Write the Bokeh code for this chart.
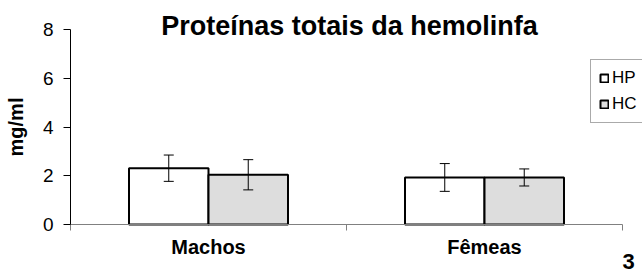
from bokeh.plotting import figure
from bokeh.models import ColumnDataSource, Range1d, FixedTicker, Whisker, Legend, LegendItem, Label
from bokeh.embed import file_html
from bokeh.resources import INLINE

categories = ["Machos", "Fêmeas"]
series = ["HP", "HC"]
hp_mean = [2.31, 1.93]
hp_err = [0.54, 0.57]
hc_mean = [2.04, 1.93]
hc_err = [0.62, 0.35]
y_ticks = [0, 2, 4, 6, 8]
y_max = 8
title_text = "Proteínas totais da hemolinfa"
y_label = "mg/ml"
page_number = "3"

FONT = "Liberation Sans"
W, H = 642, 273
# pixel layout of the plotting area inside the canvas
LEFT, RIGHT, TOP, BOTTOM = 70, 622, 29, 224
BAR_W = 0.288
OFF = 0.144

n = len(categories)
cat_x = [i + 0.5 for i in range(n)]
boundaries = [float(i) for i in range(n + 1)]

px_x = (RIGHT - LEFT) / n
px_y = (BOTTOM - TOP) / y_max
x_range = Range1d(-LEFT / px_x, n + (W - RIGHT) / px_x)
y_range = Range1d(-(H - BOTTOM) / px_y, y_max + TOP / px_y)

src = ColumnDataSource(dict(
    x_hp=[c - OFF for c in cat_x],
    x_hc=[c + OFF for c in cat_x],
    hp=hp_mean, hc=hc_mean,
    hp_up=[m + e for m, e in zip(hp_mean, hp_err)],
    hp_lo=[m - e for m, e in zip(hp_mean, hp_err)],
    hc_up=[m + e for m, e in zip(hc_mean, hc_err)],
    hc_lo=[m - e for m, e in zip(hc_mean, hc_err)],
))

p = figure(width=W, height=H, output_backend="svg", toolbar_location=None,
           x_range=x_range, y_range=y_range, min_border=0)
p.outline_line_color = None
p.grid.visible = False
p.background_fill_color = "white"
p.border_fill_color = "white"

r_hp = p.vbar(x="x_hp", top="hp", width=BAR_W, source=src, fill_color="white",
              line_color="black", line_width=2)
r_hc = p.vbar(x="x_hc", top="hc", width=BAR_W, source=src, fill_color="#dddddd",
              line_color="black", line_width=2)

for base, up, lo in [("x_hp", "hp_up", "hp_lo"), ("x_hc", "hc_up", "hc_lo")]:
    w = Whisker(base=base, upper=up, lower=lo, source=src, line_color="black",
                line_width=1, level="overlay")
    w.upper_head.size = 10
    w.lower_head.size = 10
    w.upper_head.line_width = 1
    w.lower_head.line_width = 1
    p.add_layout(w)

# y axis
ya = p.yaxis[0]
ya.fixed_location = 0
ya.bounds = (0, y_max)
ya.ticker = FixedTicker(ticks=y_ticks, minor_ticks=[])
ya.axis_line_color = "black"
ya.major_tick_out = 7
ya.major_tick_in = 0
ya.minor_tick_out = 0
ya.major_label_standoff = 10
ya.major_label_text_font = FONT
ya.major_label_text_font_size = "19px"
ya.major_label_text_color = "black"
ya.axis_label = y_label
ya.axis_label_text_font = FONT
ya.axis_label_text_font_style = "bold"
ya.axis_label_text_font_size = "20px"
ya.axis_label_text_color = "black"
ya.axis_label_standoff = 13

# x axis: tick marks at category boundaries, labels at centres
xa = p.xaxis[0]
xa.fixed_location = 0
xa.bounds = (0, n)
xa.ticker = FixedTicker(ticks=cat_x, minor_ticks=boundaries)
xa.major_label_overrides = {c: name for c, name in zip(cat_x, categories)}
xa.axis_line_color = "#808080"
xa.major_tick_out = 0
xa.major_tick_in = 0
xa.minor_tick_out = 6
xa.minor_tick_in = 0
xa.minor_tick_line_color = "#808080"
xa.major_label_standoff = 5
xa.major_label_text_font = FONT
xa.major_label_text_font_style = "bold"
xa.major_label_text_font_size = "20px"
xa.major_label_text_color = "black"

# title
p.add_layout(Label(x=n / 2, y=y_max, x_offset=3, y_offset=4, text=title_text,
                   text_align="center", text_baseline="alphabetic", text_font=FONT,
                   text_font_style="bold", text_font_size="27px", text_color="black"))

# page number
p.add_layout(Label(x=n, y=0, x_offset=6, y_offset=-37, text=page_number,
                   text_align="center", text_baseline="alphabetic", text_font=FONT,
                   text_font_style="bold", text_font_size="22px", text_color="black"))

legend = Legend(items=[LegendItem(label=series[0], renderers=[r_hp]),
                       LegendItem(label=series[1], renderers=[r_hc])],
                location=(590, 150), orientation="vertical",
                label_text_font=FONT, label_text_font_size="17px", label_text_color="black",
                glyph_width=10, glyph_height=10, label_standoff=3, label_width=60,
                padding=8, spacing=6, margin=0,
                border_line_color="#555555", border_line_width=1,
                background_fill_color="white", background_fill_alpha=1)
p.add_layout(legend, "center")

open("out.html", "w").write(file_html(p, INLINE))
